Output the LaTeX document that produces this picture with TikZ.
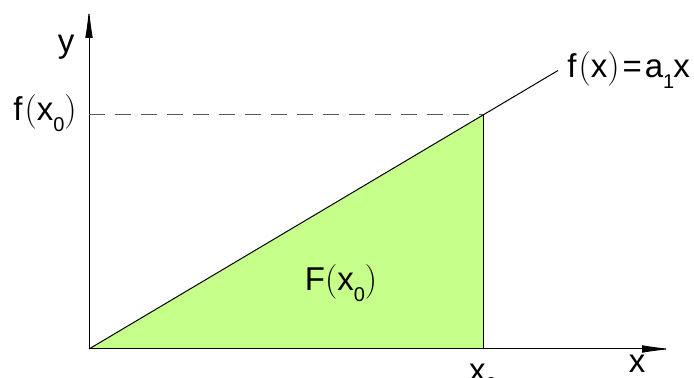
\documentclass[tikz,border=0pt]{standalone}
\usepackage{fontspec}
\setmainfont{Liberation Sans}
\usepackage{tikz}
\usetikzlibrary{arrows.meta,positioning}
\definecolor{areagreen}{RGB}{198,255,138}
\newcommand\lsub[1]{\raisebox{-0.6ex}{\fontsize{10}{12}\selectfont #1}}

\begin{document}
\begin{tikzpicture}[x=0.5pt,y=0.5pt,every node/.style={font=\fontsize{16.5}{19}\selectfont,inner sep=0pt},
  axis/.style={line width=0.5pt,-{Latex[length=15pt,width=3.8pt]}}]
  \useasboundingbox (0,0) rectangle (694,378);
  % 坐标点
  \coordinate (O) at (89,29);
  \coordinate (B) at (483,29);
  \coordinate (P) at (483,263);
  \coordinate (E) at (558,307.5);
  \coordinate (L) at (89,263);
  % 面积
  \fill[areagreen] (O) -- (P) -- (B) -- cycle;
  \draw[line width=0.5pt] (P) -- (B);
  % 坐标轴
  \draw[axis] (O) -- (672,29) coordinate (X);
  \draw[axis] (O) -- (89,370) coordinate (Y);
  \node (ylab) at (66,331) {y};
  \node (xlab) at (637,14) {x};
  \node (x0lab) at (483,0) {x\lsub{0}};
  % 直线 f(x)=a1 x
  \draw[line width=0.5pt] (O) -- (E);
  \node[anchor=west] (flab) at (567,308) {f\kern1pt$\Big($x$\Big)$\kern1.5pt=\kern1.5pt a\lsub{1}\kern-0.5pt x};
  % 虚线
  \draw[dashed,gray!70!black,line width=0.5pt,dash pattern=on 8pt off 5pt] (L) -- (P);
  \node (fx0lab) at (45,265) {f\kern1pt$\Big($x\lsub{0}$\Big)$};
  \node (Flab) at (341,95) {F$\Big($x\lsub{0}$\Big)$};
\end{tikzpicture}
\end{document}
